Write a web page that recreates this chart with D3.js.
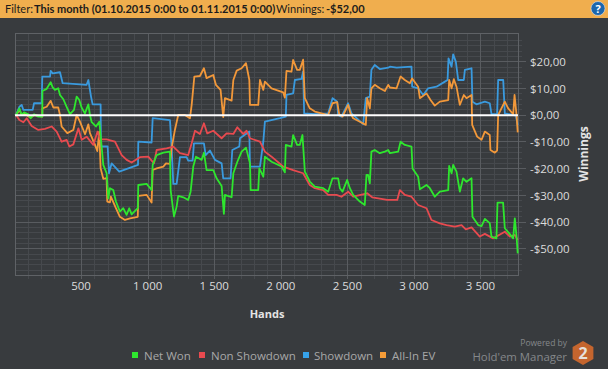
<!DOCTYPE html>
<html>
<head>
<meta charset="utf-8">
<script src="https://cdnjs.cloudflare.com/ajax/libs/d3/7.8.5/d3.min.js"></script>
<style>
    html, body { margin: 0; padding: 0; background: #383b3e; }
    svg { display: block; font-family: "Open Sans", sans-serif; }
</style>
</head>
<body>
<div id="chart"></div>
<script>
// values are [hands, dollars]
const netWon = [[0,0],[8,0.1],[33,2.6],[50,0.1],[68,1.1],[100,0.4],[118,-1.1],[143,0.4],[175,-0.5],[205,-0.5],[206,9.1],[238,9.9],[268,12.4],[283,10.4],[300,9.5],[325,10.1],[338,7.6],[363,6],[393,2.6],[413,0.4],[443,2],[463,7],[483,5.7],[500,2.9],[525,0.7],[551,4.1],[563,0.1],[576,-2.6],[608,-4.2],[633,-2.4],[643,-7.4],[663,-18.6],[688,-21.7],[701,-31.1],[713,-27.3],[738,-28],[758,-32.3],[788,-36.1],[813,-34.8],[838,-37.3],[858,-34.8],[876,-37.1],[922,-34.8],[926,-26.1],[989,-25.7],[1026,-28],[1034,-18.6],[1064,-14.9],[1114,-14],[1164,-13.6],[1169,-28],[1194,-37.9],[1214,-34.2],[1226,-30.2],[1264,-30.7],[1301,-31.7],[1319,-28.6],[1339,-19.2],[1359,-15.5],[1402,-16.7],[1419,-14],[1439,-20.5],[1489,-20.5],[1514,-23.6],[1552,-26.5],[1569,-36.9],[1577,-29.8],[1627,-30.7],[1640,-21.7],[1670,-17.4],[1702,-13.6],[1735,-12.1],[1765,-18],[1770,-28],[1827,-28],[1835,-19.9],[1865,-23],[1877,-15.5],[1927,-17.4],[2002,-19.2],[2027,-21.4],[2034,-11.1],[2077,-11.7],[2089,-7.4],[2119,-11.1],[2139,-11.1],[2159,-7.4],[2177,-21.1],[2214,-24.8],[2252,-26.7],[2315,-27.3],[2352,-28.6],[2385,-23.6],[2427,-23.6],[2440,-27.3],[2460,-28.6],[2495,-24.2],[2515,-27.3],[2540,-29.8],[2590,-32.3],[2627,-33.6],[2640,-22.3],[2652,-22.3],[2665,-25.5],[2677,-13.6],[2702,-13],[2740,-14.2],[2778,-13.6],[2803,-13],[2816,-14.2],[2878,-13.6],[2896,-9.9],[2928,-11.1],[2978,-11.7],[2986,-19.9],[3028,-23],[3041,-27.7],[3091,-26.1],[3116,-27.3],[3153,-30.5],[3191,-28.6],[3254,-28],[3261,-19],[3279,-21.7],[3291,-18.6],[3316,-21.1],[3341,-28.6],[3366,-23.6],[3391,-24.9],[3429,-23.6],[3436,-38],[3479,-41.1],[3504,-41.5],[3529,-38.8],[3566,-40.4],[3579,-45.4],[3616,-46.1],[3624,-32.7],[3666,-32.7],[3679,-42.3],[3712,-44.2],[3742,-46.1],[3754,-38.6],[3767,-45.4],[3776,-51.7]];

const nonShowdown = [[0,0],[8,0.1],[33,-1.8],[63,-2.6],[88,-1.1],[125,-4],[175,-5.5],[225,-5.1],[275,-4.2],[313,-6.1],[350,-9.9],[388,-9.2],[408,-11.7],[438,-10.9],[476,-4.9],[501,-9.2],[538,-8],[588,-11.1],[620,-6.1],[638,-9],[688,-9],[751,-9.9],[801,-14.9],[839,-16.7],[876,-17.7],[938,-15.7],[1001,-15.5],[1044,-18],[1064,-13],[1139,-12.4],[1189,-11.7],[1239,-14.2],[1301,-14.9],[1327,-10.5],[1352,-5.8],[1389,-7],[1419,-3],[1444,-6.8],[1489,-5.8],[1552,-8.6],[1589,-6.8],[1640,-7],[1670,-4.5],[1714,-7],[1740,-5.8],[1765,-8.6],[1840,-9.9],[1877,-13.6],[1927,-15.5],[2014,-19.2],[2089,-20.5],[2164,-21.7],[2214,-26.1],[2252,-27.3],[2315,-28],[2352,-29.8],[2415,-29.8],[2452,-30.5],[2502,-28.6],[2540,-30.5],[2645,-29.2],[2683,-30.7],[2796,-31.7],[2871,-31.7],[2891,-28],[2928,-29.8],[2978,-30.5],[3028,-33.6],[3091,-34.8],[3128,-39.2],[3191,-40.5],[3241,-41.1],[3303,-41.7],[3354,-41.1],[3386,-42.7],[3429,-42],[3491,-45.4],[3529,-44.4],[3591,-46.1],[3679,-43.6],[3717,-45.4],[3754,-44.8],[3776,-46.7]];

const showdown = [[0,0],[8,0.1],[33,3.2],[50,3.9],[63,2],[133,2],[143,4.5],[200,4.5],[205,14.5],[263,14.5],[268,16.6],[283,15.7],[338,16.1],[358,12],[538,11.4],[551,13.2],[571,7],[583,4.1],[643,4.1],[646,-11.7],[696,-11.7],[706,-21.7],[726,-18],[783,-21.1],[851,-19.9],[924,-18.6],[926,-9.9],[1026,-10.2],[1034,-1.1],[1164,-1.8],[1176,-11.7],[1189,-25.7],[1214,-25.7],[1239,-15.7],[1289,-15.7],[1301,-17],[1334,-17],[1344,-10.5],[1419,-10.5],[1432,-14.9],[1464,-13.2],[1502,-16.7],[1552,-18],[1564,-23.6],[1619,-23.6],[1632,-13],[1685,-11.7],[1690,-8.6],[1760,-6.1],[1765,-19.2],[1840,-19.2],[1865,-9.9],[1877,-2.4],[1990,-1.1],[2034,-0.5],[2039,7.6],[2089,8.2],[2102,13.2],[2152,13.6],[2164,16.3],[2172,0.7],[2252,0.4],[2352,0.7],[2385,6.4],[2420,5.1],[2427,0.1],[2452,-0.5],[2502,4.5],[2527,0.7],[2615,-3.3],[2635,6.4],[2665,7],[2677,17],[2702,18.8],[2740,17.3],[2803,17.8],[2816,18.2],[2866,17.8],[2978,18.2],[2983,10.7],[3028,10.1],[3066,7.6],[3103,10.1],[3166,10.7],[3229,12.6],[3249,13.2],[3256,21.3],[3279,18.2],[3291,22.8],[3311,20.1],[3329,13.2],[3371,13.2],[3379,17],[3429,17.6],[3436,5.1],[3466,4.1],[3529,5.1],[3566,4.5],[3579,0.4],[3621,0.4],[3629,13.2],[3667,13.2],[3679,0.7],[3762,-0.1],[3776,-3.6]];

const allInEv = [[0,0],[8,0.1],[33,2],[50,0.1],[68,0.7],[118,-0.9],[143,0.1],[205,-0.5],[206,2.6],[238,3.2],[268,5.4],[288,2.9],[325,2.9],[338,0.1],[350,-4.2],[393,-6.7],[438,-5.5],[463,0.1],[488,-2.4],[526,-7.1],[551,-3.4],[563,-6.7],[601,-11.1],[618,-13.4],[633,-6.1],[643,-19.8],[663,-23.8],[688,-23.5],[693,-32.3],[713,-32.6],[720,-30.5],[758,-34.8],[788,-38],[826,-39.2],[864,-38.6],[922,-38],[926,-30.2],[989,-29.8],[1026,-32.7],[1034,-20.5],[1064,-19.9],[1114,-19.2],[1134,-18],[1164,-18.2],[1176,-12.4],[1201,-5.5],[1226,0.1],[1276,0.1],[1314,-1.1],[1327,3.9],[1347,14.5],[1389,14.7],[1419,17.6],[1439,13.9],[1489,15.1],[1509,11.4],[1544,9.5],[1564,-0.7],[1577,6.4],[1627,5.5],[1640,13.2],[1665,16.7],[1702,17.6],[1735,19.5],[1760,13.2],[1765,3.9],[1827,3.9],[1840,13.2],[1865,9.5],[1877,12.6],[1927,10.1],[2014,8.6],[2027,6.6],[2039,16.6],[2077,16.3],[2089,20.7],[2119,17],[2139,17],[2164,20.8],[2177,6.4],[2214,2.6],[2252,1.4],[2352,0.1],[2385,4.5],[2420,4.9],[2435,0.4],[2460,-0.5],[2502,3.9],[2520,0.7],[2540,-1.1],[2590,-2.4],[2635,-3.6],[2645,6.4],[2665,2.6],[2677,10.1],[2702,11.4],[2740,10.1],[2778,9.1],[2803,11.4],[2816,10.4],[2866,10.1],[2896,14.5],[2928,13.2],[2966,12],[2983,13.8],[3028,10.7],[3041,6.4],[3091,8.2],[3121,5.7],[3153,3.6],[3191,5.1],[3254,5.7],[3261,13.2],[3279,10.1],[3296,13.5],[3316,10.7],[3341,3.9],[3371,7.6],[3391,6.4],[3429,7.6],[3434,-3.6],[3471,-8],[3504,-9.2],[3529,-6.1],[3566,-7.4],[3571,-13],[3604,-14],[3621,-13.2],[3629,0.1],[3679,5.1],[3704,2.6],[3742,0.4],[3752,7.6],[3767,0.1],[3776,-6.4]];

const xTicks = [500, 1000, 1500, 2000, 2500, 3000, 3500];
const yTicks = [-50, -40, -30, -20, -10, 0, 10, 20];
const xMinor = d3.range(100, 3800, 100).filter((d) => d % 500 !== 0);
const yMinor = d3.range(-58, 32, 2).filter((d) => d % 10 !== 0);
const legendNames = ["Net Won", "Non Showdown", "Showdown", "All-In EV"];

const width = 608;
const height = 369;
const margin = { top: 33, right: 90, bottom: 94, left: 15 };
const colors = {
    netWon: "#2ee62e",
    nonShowdown: "#e84a4f",
    showdown: "#3a9ade",
    allIn: "#f2983a",
};

const svg = d3.select("#chart")
    .append("svg")
    .attr("viewBox", [0, 0, width, height])
    .attr("width", width)
    .attr("height", height);

svg.append("rect").attr("width", width).attr("height", height).attr("fill", "#383b3e");

// header bar
const header = svg.append("g");
header.append("rect").attr("width", width).attr("height", 18).attr("fill", "#f0ae4e");
const headerText = header.append("text")
    .attr("y", 13)
    .attr("font-family", "Lato")
    .attr("font-size", 11)
    .attr("fill", "#1c1c1c");
headerText.append("tspan").attr("x", 5).text("Filter:");
headerText.append("tspan").attr("x", 34).attr("font-weight", "bold").text("This month (01.10.2015 0:00 to 01.11.2015 0:00)");
headerText.append("tspan").attr("x", 276).text("Winnings:");
headerText.append("tspan").attr("x", 326).attr("font-weight", "bold").text("-$52,00");
header.append("circle").attr("cx", 598).attr("cy", 8.5).attr("r", 7).attr("fill", "#1c67ad").attr("stroke", "#e8e8e8").attr("stroke-width", 0.6);
header.append("text")
    .attr("x", 598)
    .attr("y", 13)
    .attr("text-anchor", "middle")
    .attr("font-size", 11)
    .attr("font-weight", "bold")
    .attr("fill", "#fff")
    .text("?");

const xScale = d3.scaleLinear()
    .domain([0, 3778])
    .range([margin.left, width - margin.right]);
const yScale = d3.scaleLinear()
    .domain([-59.8, 30.8])
    .range([height - margin.bottom, margin.top]);

const plotLeft = margin.left;
const plotRight = width - margin.right;
const plotTop = margin.top;
const plotBottom = height - margin.bottom;

// grid, minor first so the major lines sit on top
const grid = svg.append("g").attr("fill", "none").attr("shape-rendering", "crispEdges");
grid.selectAll(".minor-x")
    .data(xMinor)
    .join("line")
        .attr("x1", (d) => xScale(d))
        .attr("x2", (d) => xScale(d))
        .attr("y1", plotTop)
        .attr("y2", plotBottom + 4)
        .attr("stroke", "#46494d");
grid.selectAll(".minor-y")
    .data(yMinor)
    .join("line")
        .attr("x1", plotLeft)
        .attr("x2", plotRight + 4)
        .attr("y1", (d) => yScale(d))
        .attr("y2", (d) => yScale(d))
        .attr("stroke", "#46494d");
grid.selectAll(".major-x")
    .data(xTicks)
    .join("line")
        .attr("x1", (d) => xScale(d))
        .attr("x2", (d) => xScale(d))
        .attr("y1", plotTop)
        .attr("y2", plotBottom + 4)
        .attr("stroke", "#595c60");
grid.selectAll(".major-y")
    .data(yTicks)
    .join("line")
        .attr("x1", plotLeft)
        .attr("x2", plotRight + 8)
        .attr("y1", (d) => yScale(d))
        .attr("y2", (d) => yScale(d))
        .attr("stroke", "#595c60");
grid.append("rect")
    .attr("x", plotLeft)
    .attr("y", plotTop)
    .attr("width", plotRight - plotLeft)
    .attr("height", plotBottom - plotTop)
    .attr("stroke", "#5f6266");

// axes only carry the labels, the tick lines come from the grid above
const formatHands = (d) => d3.format(",")(d).replace(",", " ");
const formatMoney = (d) => (d < 0 ? "-$" : "$") + Math.abs(d).toFixed(2).replace(".", ",");

const xAxis = svg.append("g")
    .attr("transform", `translate(0,${plotBottom})`)
    .call(d3.axisBottom(xScale).tickValues(xTicks).tickFormat(formatHands).tickSize(0).tickPadding(7));
const yAxis = svg.append("g")
    .attr("transform", `translate(${plotRight},0)`)
    .call(d3.axisRight(yScale).tickValues(yTicks).tickFormat(formatMoney).tickSize(0).tickPadding(12));
xAxis.select(".domain").remove();
yAxis.select(".domain").remove();
xAxis.selectAll("text").attr("font-size", 11.5).attr("font-family", "Open Sans").attr("fill", "#dcdcdc").attr("dx", -1);
yAxis.selectAll("text").attr("font-size", 11.5).attr("font-family", "Open Sans").attr("fill", "#dcdcdc");

svg.append("text")
    .attr("x", 267)
    .attr("y", 318)
    .attr("text-anchor", "middle")
    .attr("font-size", 11)
    .attr("font-weight", "bold")
    .attr("fill", "#e4e4e4")
    .text("Hands");
svg.append("text")
    .attr("transform", "translate(588,154) rotate(270)")
    .attr("text-anchor", "middle")
    .attr("font-size", 12)
    .attr("font-weight", "bold")
    .attr("fill", "#e4e4e4")
    .text("Winnings");

// series
const line = d3.line()
    .x((d) => xScale(d[0]))
    .y((d) => yScale(d[1]));

const plotArea = svg.append("g").attr("fill", "none").attr("stroke-width", 1.8).attr("stroke-linejoin", "round");
plotArea.append("path").attr("d", line(showdown)).attr("stroke", colors.showdown);
plotArea.append("path").attr("d", line(allInEv)).attr("stroke", colors.allIn);
plotArea.append("path").attr("d", line(nonShowdown)).attr("stroke", colors.nonShowdown);
plotArea.append("path").attr("d", line(netWon)).attr("stroke", colors.netWon);

// zero line
svg.append("line")
    .attr("x1", plotLeft)
    .attr("x2", plotRight)
    .attr("y1", yScale(0))
    .attr("y2", yScale(0))
    .attr("stroke", "#fff")
    .attr("stroke-width", 2);

// legend
const legendX = [132, 199, 303, 380];
const legendColors = [colors.netWon, colors.nonShowdown, "#36a2ea", "#f59c38"];
const legend = svg.append("g");
legendNames.forEach((name, i) => {
    legend.append("rect")
        .attr("x", legendX[i])
        .attr("y", 352)
        .attr("width", 6)
        .attr("height", 6)
        .attr("fill", legendColors[i]);
    legend.append("text")
        .attr("x", legendX[i] + (i === 2 ? 11 : 12))
        .attr("y", 360)
        .attr("font-size", 11.5)
        .attr("fill", "#a8a8a8")
        .text(name);
});

// logo
svg.append("text")
    .attr("x", 567)
    .attr("y", 346)
    .attr("text-anchor", "end")
    .attr("font-size", 8.5)
    .attr("fill", "#85888b")
    .text("Powered by");
svg.append("text")
    .attr("x", 567)
    .attr("y", 361)
    .attr("text-anchor", "end")
    .attr("font-size", 11.4)
    .attr("fill", "#85888b")
    .text("Hold'em Manager");
const hexPoints = d3.range(6).map((i) => {
    const a = Math.PI / 3 * i - Math.PI / 2;
    return [583 + 12 * Math.cos(a), 353 + 12 * Math.sin(a)];
});
svg.append("polygon").attr("points", hexPoints.join(" ")).attr("fill", "#c4652e");
svg.append("text")
    .attr("x", 583)
    .attr("y", 359)
    .attr("text-anchor", "middle")
    .attr("font-size", 16)
    .attr("font-weight", "bold")
    .attr("fill", "#e6e0da")
    .text("2");
</script>
</body>
</html>
